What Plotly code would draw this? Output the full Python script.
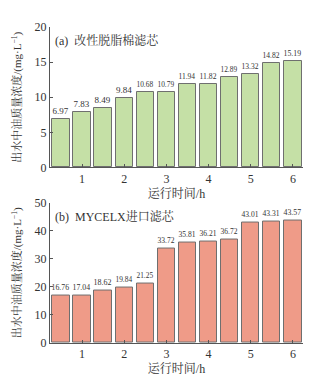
import plotly.graph_objects as go
from plotly.subplots import make_subplots

x_hours = [0.5, 1.0, 1.5, 2.0, 2.5, 3.0, 3.5, 4.0, 4.5, 5.0, 5.5, 6.0]
vals_a = [6.97, 7.83, 8.49, 9.84, 10.68, 10.79, 11.94, 11.82, 12.89, 13.32, 14.82, 15.19]
vals_b = [16.76, 17.04, 18.62, 19.84, 21.25, 33.72, 35.81, 36.21, 36.72, 43.01, 43.31, 43.57]
labels_a = ["6.97", "7.83", "8.49", "9.84", "10.68", "10.79", "11.94", "11.82", "12.89", "13.32", "14.82", "15.19"]
labels_b = ["16.76", "17.04", "18.62", "19.84", "21.25", "33.72", "35.81", "36.21", "36.72", "43.01", "43.31", "43.57"]
xticks = [1, 2, 3, 4, 5, 6]
title_a = "(a)  改性脱脂棉滤芯"
title_b = "(b)  MYCELX进口滤芯"
xtitle = "运行时间/h"
ytitle = "出水中油质量浓度/(mg·L<sup>−1</sup>)"

FONT = "Liberation Serif, Noto Serif CJK SC, Noto Sans CJK SC, serif"
AX = "#555555"

fig = make_subplots(rows=2, cols=1, vertical_spacing=0.111)

fig.add_trace(go.Bar(x=x_hours, y=vals_a, width=0.41, text=labels_a,
                     textposition="outside", cliponaxis=False,
                     textfont=dict(size=9, color="#333333", family=FONT),
                     marker=dict(color="#c5e0a6", line=dict(color="#6f6f6f", width=1)),
                     showlegend=False), row=1, col=1)
fig.add_trace(go.Bar(x=x_hours, y=vals_b, width=0.41, text=labels_b,
                     textposition="outside", cliponaxis=False,
                     textfont=dict(size=9, color="#333333", family=FONT),
                     marker=dict(color="#ef9b88", line=dict(color="#6f6f6f", width=1)),
                     showlegend=False), row=2, col=1)

for r, ymax, dt in [(1, 20, 5), (2, 50, 10)]:
    fig.update_xaxes(row=r, col=1, range=[0.24, 6.24], tickvals=xticks,
                     ticks="inside", ticklen=3, tickcolor=AX, showline=True,
                     linecolor=AX, linewidth=1, showgrid=False, zeroline=False,
                     tickfont=dict(size=12, family=FONT, color="#333333"),
                     title=dict(text=xtitle, font=dict(size=12, family=FONT, color="#333333"), standoff=2))
    fig.update_yaxes(row=r, col=1, range=[0, ymax], dtick=dt,
                     ticks="inside", ticklen=3, tickcolor=AX, showline=True,
                     linecolor=AX, linewidth=1, showgrid=False, zeroline=False,
                     tickfont=dict(size=12, family=FONT, color="#333333"),
                     title=dict(text=ytitle, font=dict(size=11, family=FONT, color="#333333"), standoff=10))

fig.add_annotation(text=title_a, xref="x domain", yref="y domain", x=0.01, y=0.97,
                   xanchor="left", yanchor="top", showarrow=False,
                   font=dict(size=12, family=FONT, color="#333333"))
fig.add_annotation(text=title_b, xref="x2 domain", yref="y2 domain", x=0.01, y=0.97,
                   xanchor="left", yanchor="top", showarrow=False,
                   font=dict(size=12, family=FONT, color="#333333"))

fig.update_layout(width=329, height=384, margin=dict(l=50, r=26, t=27, b=32),
                  paper_bgcolor="white", plot_bgcolor="white", bargap=0,
                  font=dict(family=FONT))
fig.write_html("out.html")
